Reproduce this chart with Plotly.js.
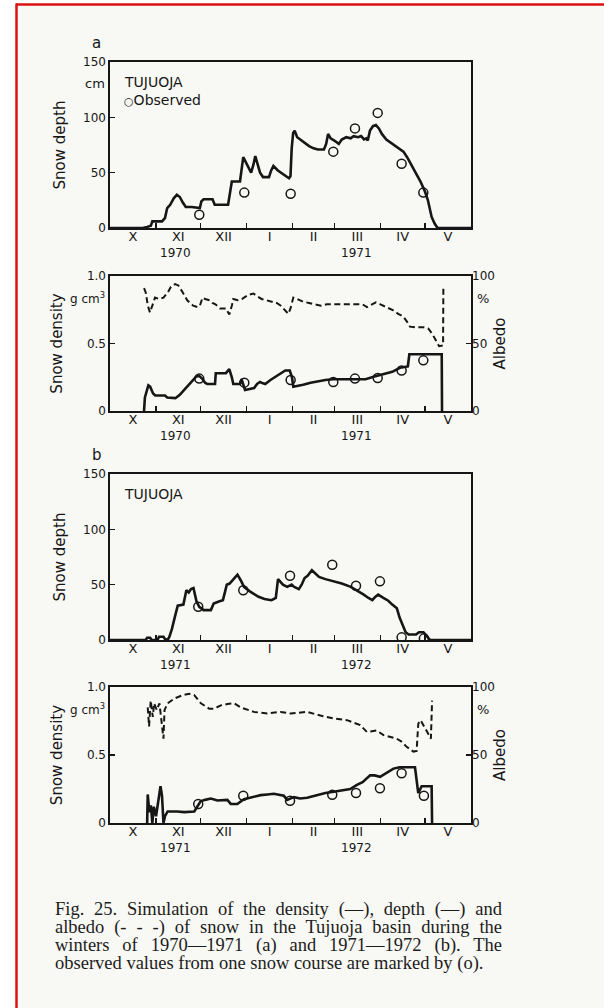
<!DOCTYPE html>
<html><head><meta charset="utf-8">
<script src="https://cdn.plot.ly/plotly-3.0.1.min.js"></script>
<style>html,body{margin:0;padding:0;background:#fff;}#chart{width:604px;height:1008px;}</style>
</head><body><div id="chart"></div>
<script>
// ---------------- DATA (day = days since 1 October) ----------------
const monthBounds = [31, 61, 92, 123, 151, 182, 212];
const monthMids = [15.5, 46, 76.5, 107.5, 137, 166.5, 197, 227.5];
const monthLabels = ["X", "XI", "XII", "I", "II", "III", "IV", "V"];
const yearsA = ["1970", "1971"];
const yearsB = ["1971", "1972"];
const yearDays = [44, 166];

// Panel a (1970-1971)
const depthA_day = [0,22,25,27.5,28.5,35,37,38.5,40.5,43,45,47,49,51,55,60.5,61.5,63,69,70.5,79.5,81,82,87.5,88.5,89.7,92,95,96.5,97.8,99.5,101,103,107,108.5,110,113,116,118.5,120.5,121.5,122.3,123.3,124.3,126,128,131,134,137,140,144,145.5,146.8,148.5,151,154,156,159,162,164,167,169,171,172.5,173.5,175,177,179,181,183,186,190,194,197.5,200,203,206.5,209,212,214,216.5,218.5,220.5,243];
const depthA_cm  = [0,0,1,2,6,6,9,18,21,27,30,28,23,19,19,18,24,26,26,21,21,36,42,42,52,64,58,50,57,65,57,50,46,46,52,56,52,49,47,45,47,72,86,88,82,80,77,74,72,71,71,76,85,81,79,76,80,82,81,83,82,83,80,81,79,88,92,93,90,85,80,76,72,69,64,57,49,42,33,25,10,4,0,0];
const densA_day = [22.9,23.5,25.8,27,29,30.5,37,38.5,44,47,51,55,58,60,62,64,65.5,70.7,71.2,78,80.3,82,83,87.5,88.6,90.9,93,97,99,101,103,104.5,108,112,116,118,121,122.5,123.4,126,130,135,139,145,150,158,165,172,178,185,190,195.2,200.5,201.5,223.3,223.5];
const densA_val = [0,0.1,0.19,0.18,0.13,0.115,0.115,0.1,0.095,0.12,0.17,0.22,0.255,0.26,0.24,0.21,0.2,0.2,0.28,0.28,0.31,0.25,0.2,0.2,0.235,0.155,0.16,0.17,0.2,0.215,0.205,0.2,0.23,0.26,0.29,0.3,0.3,0.25,0.18,0.185,0.195,0.21,0.22,0.23,0.235,0.235,0.24,0.235,0.255,0.275,0.29,0.32,0.33,0.42,0.42,0];
const albA_day = [22.9,24,25.5,26.9,28.5,30.3,33,36,39,41,43.8,46,48.3,50,52,53.9,56,59,60.5,62.3,64,67,69,71,74,78,80.3,82,83,86,89,93,96.5,99,102,105.5,109,112.2,115,118,120,121.5,123.4,126,130,134,138,142,146,150,155,160,165,170,173,176,179,182,186,190.7,194,197.4,200,201.9,206,211,214.3,217,219.5,221.5,224.2,224.4];
const albA_pct = [91,88,78,73,78,84,83,84,88,92,94,93,89,86,82,80,78,77,78,84,83,82,80,79,76,76,71.5,78,83,82,83,86,87,85,83,82,81,80,78,74,72,76,84,83,81,80,79,78,79,79,79.5,79.5,79.5,79,77,79,80.5,79,77,74.5,72,70,66,62.5,62,62,61,57,52,48,48.5,92];
const obsA_day = [60.1, 90.4, 121.6, 150.3, 164.9, 180.2, 196.3, 210.9];
const obsA_depth = [12, 32, 31, 69, 90, 104, 58, 32];
const obsA_dens = [0.24, 0.21, 0.23, 0.215, 0.24, 0.245, 0.30, 0.375];

// Panel b (1971-1972)
const depthB_day = [0,24,25,27,28,32,33,36,37,38.8,40,41.7,43.5,45.6,49.4,50.5,51.4,53,54.5,56.2,57.2,58.2,60.1,63,67.9,69.8,73.7,76,77.5,78.6,80.5,83.4,85.8,88,90.2,94.1,100,104,108.7,111.6,113.1,116.4,119.3,122.3,124,127.1,129,131,133,135.9,138,140.7,145,150.4,156,162.1,166,170.8,174,176.6,178.5,180.5,184,187.3,190,193.1,195,197,199,201,206,208,211,213,215.4,243];
const depthB_cm  = [0,0,2,2,0,0,3,3,1,0,3,10,20,31,32,40,45,43,46,47,42,35,30,27,27,33,35,36,44,50,51,55,59,54,48,44,39,37,36,38,55,50,48,50,48,46,50,56,58,63,60,57,55,53,51,48,45,41,38,36,39,41,38,35.5,32,28.6,20,13.5,7,5,5,7,7,4,0,0];
const densB_day = [25,25.4,26.5,27.5,28.5,29.5,31,32.5,34,35,36,37,38.8,45,50,56.7,59,61,64,67.9,72.3,79,81.3,85.7,90.2,95,101.4,106,110.3,117,119.3,123.7,128,132.7,139.4,145,150.6,156,161.7,166.2,170,175.1,178,181.8,186,190.8,195,205.3,207.5,209.8,216.5,216.8];
const densB_val = [0,0.21,0.08,0.13,0,0.12,0.05,0.18,0.27,0.2,0,0.05,0.085,0.085,0.08,0.085,0.13,0.16,0.17,0.18,0.165,0.17,0.14,0.14,0.175,0.19,0.205,0.21,0.215,0.2,0.17,0.19,0.18,0.185,0.207,0.22,0.23,0.24,0.25,0.28,0.3,0.35,0.35,0.34,0.37,0.4,0.41,0.41,0.22,0.27,0.27,0];
const albB_day = [25.4,26.3,27.4,28.8,29.7,31.5,33.3,34.9,36,36.7,38.8,43.3,48.9,53.3,56.7,61.2,66.8,70,74.6,79,83.5,88,96.9,105.9,110,114.8,121.5,126,132.7,141.6,150.6,159.5,165,168.4,172.9,176,179.6,184.1,193,196,199.7,204.2,206.4,207.5,209.1,213,216,216.8];
const albB_pct = [85,71,90,78,88,83,88,73,62,83,88,91.5,94,95,94,88,84,84,86.5,87.5,88,85,81.7,80.5,81,81.7,80.5,81,81.7,79,76.8,75.6,73.5,72,67,67.5,68,64.6,62,60,56,52.5,53,73,75.6,68,62,90];
const obsB_day = [59.4, 89.7, 121.2, 149.6, 165.6, 181.7, 196.3, 211.3];
const obsB_depth = [30, 45, 58, 68, 49, 53, 2.4, 1.5];
const obsB_dens = [0.14, 0.2, 0.163, 0.207, 0.22, 0.256, 0.366, 0.2];

const captionLines = [
  'Fig. 25. Simulation of the density (—), depth (—) and',
  'albedo (- - -) of snow in the Tujuoja basin during the',
  'winters of 1970—1971 (a) and 1971—1972 (b). The',
  'observed values from one snow course are marked by (o).'
];

// ---------------- LAYOUT ----------------
const W = 604, H = 1008;
const X0 = 110, X1 = 471;
const P = { aD:[62,228], aR:[276,411], bD:[474,640], bR:[687,823] };
const xd = [X0/W, X1/W];
const yd = r => [1 - r[1]/H, 1 - r[0]/H];
const yp = p => 1 - p/H;
const ink = '#161616';
const sans = '"DejaVu Sans", "Liberation Sans", Arial, sans-serif';
const serif = '"Liberation Serif", "DejaVu Serif", serif';

function xAxis(anchor) {
  return {
    domain: xd, anchor: anchor, range: [0, 243], fixedrange: true,
    showline: true, mirror: true, linecolor: ink, linewidth: 1.6,
    showgrid: false, zeroline: false,
    tickmode: 'array', tickvals: monthMids, ticktext: monthLabels,
    ticks: '', ticklabelstandoff: -4, tickfont: {family: sans, size: 13, color: ink},
    minor: {tickmode: 'array', tickvals: monthBounds, ticks: 'inside', ticklen: 5, tickwidth: 1.4, tickcolor: ink}
  };
}
function yAxis(anchor, range, vals, text, dom, title, standoff) {
  return {
    domain: dom, anchor: anchor, range: range, fixedrange: true,
    showline: true, mirror: true, linecolor: ink, linewidth: 1.6,
    showgrid: false, zeroline: false,
    tickmode: 'array', tickvals: vals, ticktext: text,
    ticks: 'inside', ticklen: 5, tickwidth: 1.4, tickcolor: ink,
    tickfont: {family: sans, size: 12, color: ink},
    title: {text: title, font: {family: sans, size: 15, color: ink}, standoff: standoff}
  };
}
function albAxis(overlay, anchor) {
  return {
    overlaying: overlay, anchor: anchor, side: 'right', range: [0, 100], fixedrange: true,
    showline: false, showgrid: false, zeroline: false,
    tickmode: 'array', tickvals: [0, 50, 100], ticktext: ['0', '50', '100'],
    ticks: 'inside', ticklen: 5, tickwidth: 1.4, tickcolor: ink,
    tickfont: {family: sans, size: 12, color: ink},
    title: {text: 'Albedo', font: {family: sans, size: 15, color: ink}, standoff: 0}
  };
}

const solid = {color: ink, width: 2.6, shape: 'linear'};
const dashed = {color: ink, width: 2, dash: '6px,3.5px'};
const circ = {symbol: 'circle-open', size: 9, color: ink, line: {width: 1.5, color: ink}};

const traces = [
  {x: depthA_day, y: depthA_cm, xaxis: 'x', yaxis: 'y', mode: 'lines', line: solid, name: 'Depth 1970-71'},
  {x: obsA_day, y: obsA_depth, xaxis: 'x', yaxis: 'y', mode: 'markers', marker: circ, name: 'Observed'},
  {x: densA_day, y: densA_val, xaxis: 'x2', yaxis: 'y2', mode: 'lines', line: solid, name: 'Density 1970-71'},
  {x: obsA_day, y: obsA_dens, xaxis: 'x2', yaxis: 'y2', mode: 'markers', marker: circ, name: 'Observed density'},
  {x: albA_day, y: albA_pct, xaxis: 'x2', yaxis: 'y3', mode: 'lines', line: dashed, name: 'Albedo 1970-71'},
  {x: depthB_day, y: depthB_cm, xaxis: 'x3', yaxis: 'y4', mode: 'lines', line: solid, name: 'Depth 1971-72'},
  {x: obsB_day, y: obsB_depth, xaxis: 'x3', yaxis: 'y4', mode: 'markers', marker: circ, name: 'Observed'},
  {x: densB_day, y: densB_val, xaxis: 'x4', yaxis: 'y5', mode: 'lines', line: solid, name: 'Density 1971-72'},
  {x: obsB_day, y: obsB_dens, xaxis: 'x4', yaxis: 'y5', mode: 'markers', marker: circ, name: 'Observed density'},
  {x: albB_day, y: albB_pct, xaxis: 'x4', yaxis: 'y6', mode: 'lines', line: dashed, name: 'Albedo 1971-72'}
];

function txt(text, xpx, ypx, size, xanchor, extra) {
  return Object.assign({text: text, xref: 'paper', yref: 'paper', x: xpx / W, y: yp(ypx),
    xanchor: xanchor || 'center', yanchor: 'middle', showarrow: false,
    font: {family: sans, size: size, color: ink}}, extra || {});
}
function yearAnn(years, xref, axisPx) {
  return years.map((yr, i) => ({text: yr, xref: xref, yref: 'paper', x: yearDays[i], y: yp(axisPx + 25),
    xanchor: 'center', yanchor: 'middle', showarrow: false, font: {family: sans, size: 12, color: ink}}));
}

const baseAnn = [
  txt('a', 97, 43, 15),
  txt('b', 97, 455, 15),
  txt('cm', 107, 83, 13, 'right'),
  txt('TUJUOJA', 122, 82, 14, 'left'),
  txt('<span style="font-size:11px">○</span>Observed', 122, 100, 14, 'left'),
  txt('g cm<sup>3</sup>', 107, 298, 12, 'right'),
  txt('%', 483, 298, 13, 'center'),
  txt('TUJUOJA', 122, 494, 14, 'left'),
  txt('g cm<sup>3</sup>', 107, 709, 12, 'right'),
  txt('%', 483, 709, 13, 'center')
].concat(yearAnn(yearsA, 'x', P.aD[1]), yearAnn(yearsA, 'x2', P.aR[1]),
         yearAnn(yearsB, 'x3', P.bD[1]), yearAnn(yearsB, 'x4', P.bR[1]));
const capStart = baseAnn.length;
const capAnn = captionLines.map((s, i) => txt(s, 53, 909 + 18 * i, 18.5, 'left',
  {align: 'left', font: {family: serif, size: 18.5, color: '#1c1c1c'}}));

const layout = {
  width: W, height: H, margin: {l: 0, r: 0, t: 0, b: 0},
  paper_bgcolor: '#ffffff', plot_bgcolor: 'rgba(0,0,0,0)',
  showlegend: false,
  xaxis: xAxis('y'), yaxis: yAxis('x', [0, 150], [0, 50, 100, 150], ['0', '50', '100', '150'], yd(P.aD), 'Snow depth', 14),
  xaxis2: xAxis('y2'), yaxis2: yAxis('x2', [0, 1], [0, 0.5, 1], ['0', '0.5', '1.0'], yd(P.aR), 'Snow density', 20),
  yaxis3: albAxis('y2', 'x2'),
  xaxis3: xAxis('y4'), yaxis4: yAxis('x3', [0, 150], [0, 50, 100, 150], ['0', '50', '100', '150'], yd(P.bD), 'Snow depth', 14),
  xaxis4: xAxis('y5'), yaxis5: yAxis('x4', [0, 1], [0, 0.5, 1], ['0', '0.5', '1.0'], yd(P.bR), 'Snow density', 20),
  yaxis6: albAxis('y5', 'x4'),
  annotations: baseAnn.concat(capAnn),
  shapes: [
    {type: 'rect', xref: 'paper', yref: 'paper', x0: 17.5 / W, x1: 1, y0: 0, y1: yp(5.5), fillcolor: '#f8f8f4', line: {width: 0}, layer: 'below'},
    {type: 'line', xref: 'paper', yref: 'paper', x0: 16 / W, x1: 1, y0: yp(4.5), y1: yp(4.5), line: {color: '#dd1010', width: 2.5}},
    {type: 'line', xref: 'paper', yref: 'paper', x0: 16.5 / W, x1: 16.5 / W, y0: 0, y1: yp(3.5), line: {color: '#dd1010', width: 2.5}}
  ]
};

Plotly.newPlot('chart', traces, layout, {staticPlot: true, displayModeBar: false}).then(function (gd) {
  // justify the first three caption lines to the printed column width
  [0, 1, 2].forEach(function (k) {
    const t = gd.querySelector('.annotation[data-index="' + (capStart + k) + '"] text');
    if (!t) return;
    const w = t.getComputedTextLength();
    const n = (captionLines[k].match(/ /g) || []).length;
    const extra = (447 - w) / n;
    if (extra > 0) t.style.wordSpacing = extra + 'px';
  });
});
</script>
</body></html>
